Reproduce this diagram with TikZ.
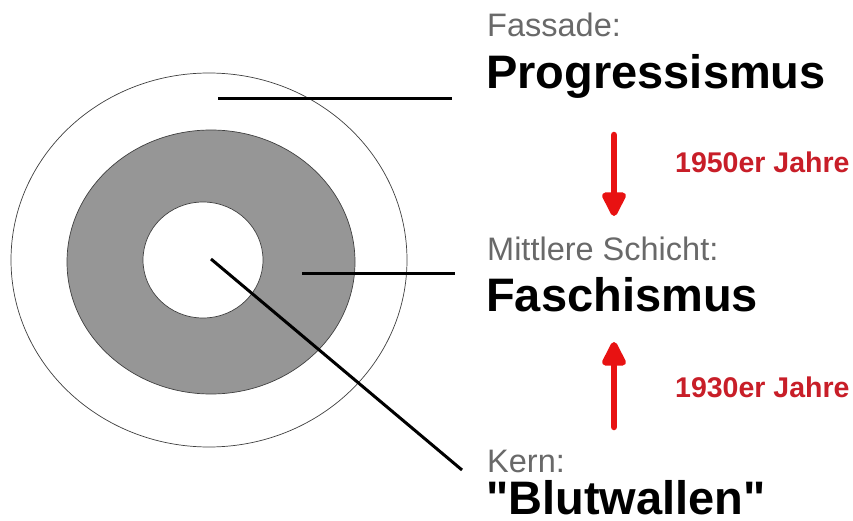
\documentclass[tikz,border=0pt]{standalone}
\usepackage{fontspec}
\setmainfont{Liberation Sans}[Ligatures=TeXOff]
\usetikzlibrary{arrows.meta}
\definecolor{ringgray}{RGB}{150,150,150}
\definecolor{labelgray}{RGB}{105,105,105}
\definecolor{yearred}{RGB}{200,30,40}
\definecolor{arrowred}{RGB}{232,18,18}
\tikzset{
  layerlabel/.style={anchor=base west, inner sep=0pt, text=labelgray, font=\fontsize{32.5}{33}\selectfont},
  layername/.style={anchor=base west, inner sep=0pt, text=black, font=\bfseries\fontsize{47}{48}\selectfont},
  yearlabel/.style={anchor=base west, inner sep=0pt, text=yearred, font=\bfseries\fontsize{28.5}{29}\selectfont},
  pointer/.style={line width=3pt, black},
  ring/.style={draw=black!75, line width=0.7pt},
  timearrow/.style={arrowred, line width=6.5pt, -{Triangle[width=26pt,length=28pt,round]}}
}
\begin{document}
\begin{tikzpicture}[x=1pt,y=-1pt]
\useasboundingbox (0,0) rectangle (853,521);
\fill[white] (0,0) rectangle (853,521);
% rings
\draw[ring, fill=white] (209,260) ellipse [x radius=198pt, y radius=187pt];
\draw[ring, fill=ringgray] (211,262) ellipse [x radius=144pt, y radius=132pt];
\draw[ring, fill=white] (203,260) ellipse [x radius=60pt, y radius=58pt];
% labels
\node[layerlabel] (fassade) at (487,37) {Fassade:};
\node[layername] (progr) at (486,89) {Progressismus};
\node[layerlabel] (mittel) at (487,260) {Mittlere Schicht:};
\node[layername] (fasch) at (486,311) {Faschismus};
\node[layerlabel] (kern) at (487,472) {Kern:};
\node[layername] (blut) at (486,514) {"Blutwallen"};
\node[yearlabel] (y1950) at (675,173) {1950er Jahre};
\node[yearlabel] (y1930) at (675,397) {1930er Jahre};
% pointer lines
\coordinate (pA) at (218,99);
\coordinate (pAe) at (452,99);
\coordinate (pB) at (302,273);
\coordinate (pBe) at (455,273);
\coordinate (pC) at (211,259);
\coordinate (pCe) at (462,470);
\draw[pointer] (pA) -- (pAe);
\draw[pointer] (pB) -- (pBe);
\draw[pointer] (pC) -- (pCe);
% time arrows
\coordinate (d1) at (614,135);
\coordinate (d2) at (614,216);
\coordinate (u1) at (614,427);
\coordinate (u2) at (614,342);
\draw[timearrow, line cap=round] (d1) -- (d2);
\draw[timearrow, line cap=round] (u1) -- (u2);
\end{tikzpicture}
\end{document}
